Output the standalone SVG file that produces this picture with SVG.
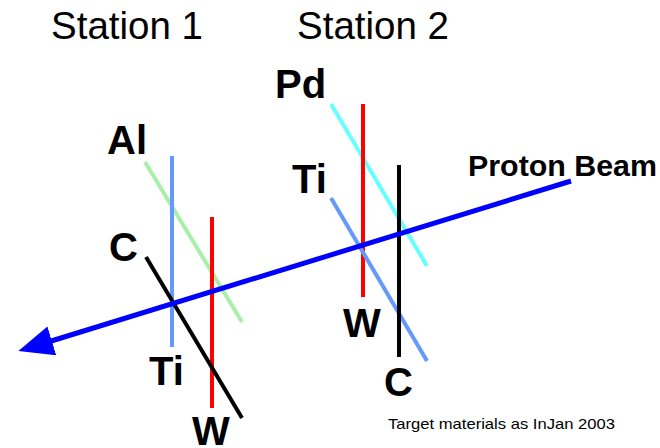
<svg xmlns="http://www.w3.org/2000/svg" width="660" height="448" viewBox="0 0 660 448">
  <style>
    .title { font-family: "Liberation Sans", Arial, sans-serif; font-size: 38.5px; fill: #000; }
    .lbl { font-family: "Liberation Sans", Arial, sans-serif; font-size: 40px; font-weight: bold; fill: #000; }
    .beamlbl { font-family: "Liberation Sans", Arial, sans-serif; font-size: 30px; font-weight: bold; fill: #000; }
    .note { font-family: "Liberation Sans", Arial, sans-serif; font-size: 15px; fill: #000; }
    .tgt { stroke-width: 4; fill: none; }
  </style>
  <defs>
    <marker id="arrow" markerUnits="userSpaceOnUse" markerWidth="36" markerHeight="32" refX="4" refY="15" orient="auto">
      <path d="M0,0 L35,15 L0,30 z" fill="#0000FF"/>
    </marker>
  </defs>
  <rect width="660" height="448" fill="#fff"/>

  <g id="titles">
    <text class="title" x="51" y="39">Station 1</text>
    <text class="title" x="297" y="39">Station 2</text>
  </g>

  <!-- Station 1 targets -->
  <g id="s1-al">
    <line class="tgt" x1="145" y1="162" x2="242" y2="322" stroke="#A8F0A8"/>
    <text class="lbl" x="107" y="154">Al</text>
  </g>
  <g id="s1-ti">
    <line class="tgt" x1="172" y1="156" x2="172" y2="347" stroke="#6699FF"/>
    <text class="lbl" x="149" y="385">Ti</text>
  </g>
  <g id="s1-w">
    <line class="tgt" x1="212" y1="217" x2="212" y2="408" stroke="#FF0000"/>
    <text class="lbl" x="192" y="445">W</text>
  </g>
  <g id="s1-c">
    <line class="tgt" x1="146" y1="257" x2="242" y2="418" stroke="#000000"/>
    <text class="lbl" x="109" y="261">C</text>
  </g>

  <!-- Station 2 targets -->
  <g id="s2-pd">
    <line class="tgt" x1="331" y1="104" x2="427" y2="266" stroke="#66FFFF"/>
    <text class="lbl" x="275" y="98">Pd</text>
  </g>
  <g id="s2-w">
    <line class="tgt" x1="363" y1="104" x2="363" y2="297" stroke="#FF0000"/>
    <text class="lbl" x="343" y="337">W</text>
  </g>
  <g id="s2-ti">
    <line class="tgt" x1="331" y1="198" x2="427" y2="361" stroke="#6699FF"/>
    <text class="lbl" x="292" y="193">Ti</text>
  </g>
  <g id="s2-c">
    <line class="tgt" x1="399" y1="165" x2="399" y2="357" stroke="#000000"/>
    <text class="lbl" x="384" y="396">C</text>
  </g>

  <g id="connectors">
    <line x1="571" y1="181" x2="48" y2="342" stroke="#0000FF" stroke-width="5" marker-end="url(#arrow)"/>
  </g>
  <g id="beam-label">
    <text class="beamlbl" x="468" y="176" textLength="189" lengthAdjust="spacingAndGlyphs">Proton Beam</text>
  </g>

  <g id="note">
    <text class="note" x="388" y="429" textLength="227" lengthAdjust="spacingAndGlyphs">Target materials as InJan 2003</text>
  </g>
</svg>
